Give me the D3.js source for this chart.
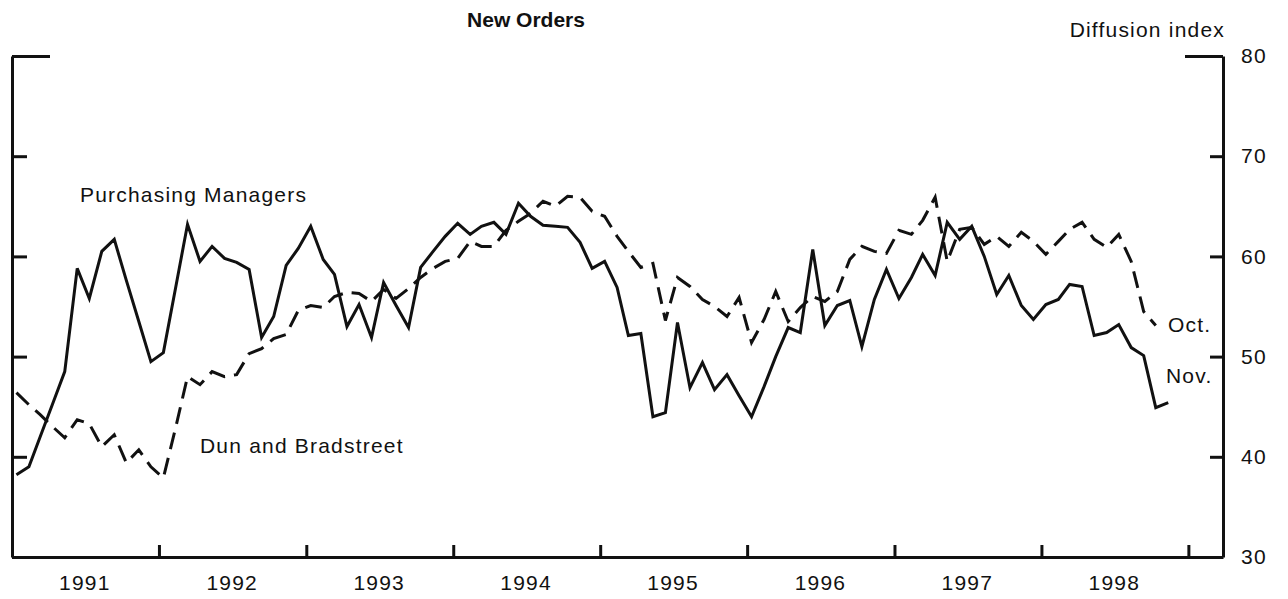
<!DOCTYPE html>
<html>
<head>
<meta charset="utf-8">
<script src="https://cdn.jsdelivr.net/npm/d3@7"></script>
<style>
  body { margin: 0; background: #fff; }
  svg text { font-family: "Liberation Sans", Arial, Helvetica, sans-serif; fill: #111; }
  .lbl { font-size: 21px; letter-spacing: 1.2px; }
  .title { font-size: 21px; font-weight: bold; }
  .axis path, .axis line { stroke: #111; stroke-width: 3; }
</style>
</head>
<body>
<div id="chart"></div>
<script>
// monthly diffusion indexes, Jan 1991 onward
var pmValues = [38.2, 39.0, 42.0, 45.3, 48.5, 58.8, 55.8, 60.5, 61.7, 57.6, 53.5, 49.5,
  50.4, 57.0, 63.2, 59.5, 61.0, 59.8, 59.4, 58.7, 51.9, 54.0, 59.1, 60.8,
  63.0, 59.7, 58.2, 53.0, 55.2, 51.9, 57.4, 55.1, 52.9, 58.9, 60.5, 62.0,
  63.3, 62.2, 63.0, 63.4, 62.2, 65.3, 64.0, 63.1, 63.0, 62.9, 61.4, 58.8,
  59.5, 56.9, 52.1, 52.3, 44.0, 44.4, 53.4, 46.9, 49.4, 46.7, 48.2, 46.1,
  44.0, 47.0, 50.0, 52.9, 52.4, 60.7, 53.1, 55.1, 55.6, 51.0, 55.7, 58.7,
  55.8, 57.9, 60.2, 58.1, 63.4, 61.7, 63.0, 60.0, 56.2, 58.1, 55.1, 53.7,
  55.2, 55.7, 57.2, 57.0, 52.1, 52.4, 53.2, 50.9, 50.1, 44.9, 45.4];

var dbValues = [46.4, 45.2, 44.2, 43.0, 41.9, 43.7, 43.3, 41.0, 42.2, 39.4, 40.7, 39.0,
  37.9, 43.0, 48.0, 47.2, 48.5, 48.0, 48.2, 50.3, 50.8, 51.8, 52.2, 54.6,
  55.1, 54.9, 56.0, 56.4, 56.3, 55.5, 56.7, 55.8, 56.8, 57.9, 58.8, 59.5,
  59.8, 61.5, 61.0, 61.0, 62.6, 63.5, 64.3, 65.5, 65.0, 66.0, 65.9, 64.5,
  64.0, 62.0, 60.5, 58.9, 59.3, 53.6, 57.9, 57.0, 55.7, 55.0, 54.0, 55.9,
  51.4, 53.7, 56.5, 53.5, 54.9, 56.0, 55.5, 56.5, 59.7, 61.0, 60.5, 60.3,
  62.6, 62.2, 63.6, 65.9, 59.5, 62.7, 62.9, 61.2, 62.0, 61.0, 62.4, 61.5,
  60.2, 61.5, 62.7, 63.4, 61.7, 60.9, 62.2, 59.5, 54.5, 53.1];

var years = [1991, 1992, 1993, 1994, 1995, 1996, 1997, 1998];
var yTicks = [30, 40, 50, 60, 70, 80];

var width = 1288, height = 599;

var svg = d3.select('#chart').append('svg')
  .attr('width', width)
  .attr('height', height);

var x = d3.scaleTime()
  .domain([new Date(1991, 0, 1), new Date(1999, 2, 28)])
  .range([12, 1223]);

var y = d3.scaleLinear()
  .domain([30, 80])
  .range([557, 56]);

function toPoints(vals) {
  return vals.map((v, i) => ({ date: new Date(1991, i, 12), value: v }));
}

var line = d3.line()
  .x(d => x(d.date))
  .y(d => y(d.value));

// axes
var yearStarts = years.slice(1).map(yr => new Date(yr, 0, 1)).concat([new Date(1999, 0, 1)]);

var xAxis = d3.axisBottom(x)
  .tickValues(yearStarts)
  .tickSize(-12)
  .tickSizeOuter(0)
  .tickFormat('');

svg.append('g')
  .attr('class', 'axis')
  .attr('transform', 'translate(0,' + y(30) + ')')
  .call(xAxis);

var leftAxis = d3.axisLeft(y)
  .tickValues(yTicks)
  .tickSize(-15)
  .tickSizeOuter(0)
  .tickFormat('');

svg.append('g')
  .attr('class', 'axis')
  .attr('transform', 'translate(' + x.range()[0] + ',0)')
  .call(leftAxis)
  .selectAll('.tick line')
  .attr('x2', d => d === 80 ? 38 : 15);

var rightAxis = d3.axisRight(y)
  .tickValues(yTicks)
  .tickSize(-13)
  .tickSizeOuter(0)
  .tickPadding(18);

var ra = svg.append('g')
  .attr('class', 'axis')
  .attr('transform', 'translate(' + x.range()[1] + ',0)')
  .call(rightAxis);

ra.selectAll('.tick line')
  .attr('x2', d => d === 80 ? -38 : -13);
ra.selectAll('.tick text')
  .attr('class', 'lbl')
  .style('font-size', null)
  .attr('font-size', null)
  .attr('fill', '#111');
ra.attr('font-size', null).attr('font-family', null);

// year labels, centred in each year
svg.selectAll('.year')
  .data(years)
  .enter()
  .append('text')
  .attr('class', 'year lbl')
  .attr('x', d => x(new Date(d, 6, 1)))
  .attr('y', 590)
  .attr('text-anchor', 'middle')
  .text(d => d);

// series
svg.append('path')
  .datum(toPoints(dbValues))
  .attr('fill', 'none')
  .attr('stroke', '#111')
  .attr('stroke-width', 3)
  .attr('stroke-dasharray', '17,9')
  .attr('d', line);

svg.append('path')
  .datum(toPoints(pmValues))
  .attr('fill', 'none')
  .attr('stroke', '#111')
  .attr('stroke-width', 3)
  .attr('stroke-linejoin', 'miter')
  .attr('d', line);

// text
svg.append('text')
  .attr('class', 'title')
  .attr('x', 526)
  .attr('y', 27)
  .attr('text-anchor', 'middle')
  .text('New Orders');

svg.append('text')
  .attr('class', 'lbl')
  .attr('x', 1225)
  .attr('y', 37)
  .attr('text-anchor', 'end')
  .text('Diffusion index');

svg.append('text')
  .attr('class', 'lbl')
  .attr('x', 80)
  .attr('y', 202)
  .text('Purchasing Managers');

svg.append('text')
  .attr('class', 'lbl')
  .attr('x', 200)
  .attr('y', 453)
  .text('Dun and Bradstreet');

svg.append('text')
  .attr('class', 'lbl')
  .attr('x', 1168)
  .attr('y', 332)
  .text('Oct.');

svg.append('text')
  .attr('class', 'lbl')
  .attr('x', 1166)
  .attr('y', 383)
  .text('Nov.');
</script>
</body>
</html>
